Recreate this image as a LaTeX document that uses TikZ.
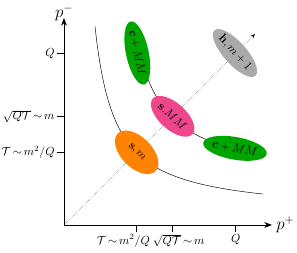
\documentclass[tikz,border=0pt]{standalone}
\usepackage{amssymb}
\usepackage{amsmath}
\usetikzlibrary{arrows.meta, shapes.geometric, positioning, calc}
\definecolor{regreen} {RGB}{0,  165, 0}
\definecolor{repink}  {RGB}{240, 70, 140}
\definecolor{reorange}{RGB}{255,130, 0}
\definecolor{regray}  {RGB}{170,170,170}

\tikzset{
	region/.style={ellipse, inner sep=0pt, minimum width=1.6cm, minimum height=0.68cm},
	tick/.style={thick},
}

\begin{document}
\begin{tikzpicture}
				\useasboundingbox (-1.92,-0.84) rectangle (6.99,6.75);
				\coordinate (o) at (0,0);
				\coordinate (xtip) at (6.24,0);
				\coordinate (ytip) at (0,6.21);
				\coordinate (dtip) at (5.73,5.73);
				\draw[densely dotted,black!60,-{Stealth[length=4pt,black]}] (o)--(dtip);
				\draw[thin] plot[domain=0.93:5.97,samples=80,smooth] (\x,{0.32+3.44/(\x-0.32)});
				\draw[thin] plot[domain=2.1:5.97,samples=80,smooth] (\x,{1.26+3.92/(\x-1.26)});
				\draw[thick,-{Stealth}] (o)--(xtip) node[right,font=\Large] (pplus) {$p^+$};
				\draw[thick,-{Stealth}] (o)--(ytip) node[above,font=\Large,inner sep=0pt,yshift=-3pt] (pminus) {$p^-$};
				\foreach \v/\lab/\dx [count=\i] in {2.18/{$\mathcal{T}\,{\sim}\,m^2/Q$}/-0.4, 3.26/{$\sqrt{Q\mathcal{T}}\,{\sim}\,m$}/0.18, 5.15/{$Q$}/0} {
					\draw[tick] (\v,0)--(\v,-0.2) node[below,inner sep=2pt,xshift=\dx cm] (xlab\i) {\lab};
					\draw[tick] (0,\v)--(-0.2,\v) node[left,inner sep=2pt] (ylab\i) {\lab};
				}
				\node[region,fill=reorange,minimum height=0.92cm,rotate=-45] (sm) at (2.18,2.18) {$\mathbf{s}, m$};
				\node[region,fill=repink,minimum height=0.8cm,rotate=-42] (smm) at (3.26,3.26) {$\mathbf{s}.MM$};
				\node[region,fill=regreen,rotate=-78] (cmmup) at (2.2,5.16) {$\mathbf{c}+MM$};
				\node[region,fill=regreen,rotate=-10] (cmmright) at (5.13,2.3) {$\mathbf{c}+MM$};
				\node[region,fill=regray,minimum width=1.7cm,rotate=-48] (hm) at (5.13,5.16) {$\mathbf{h}, m+1$};
\end{tikzpicture}
\end{document}
